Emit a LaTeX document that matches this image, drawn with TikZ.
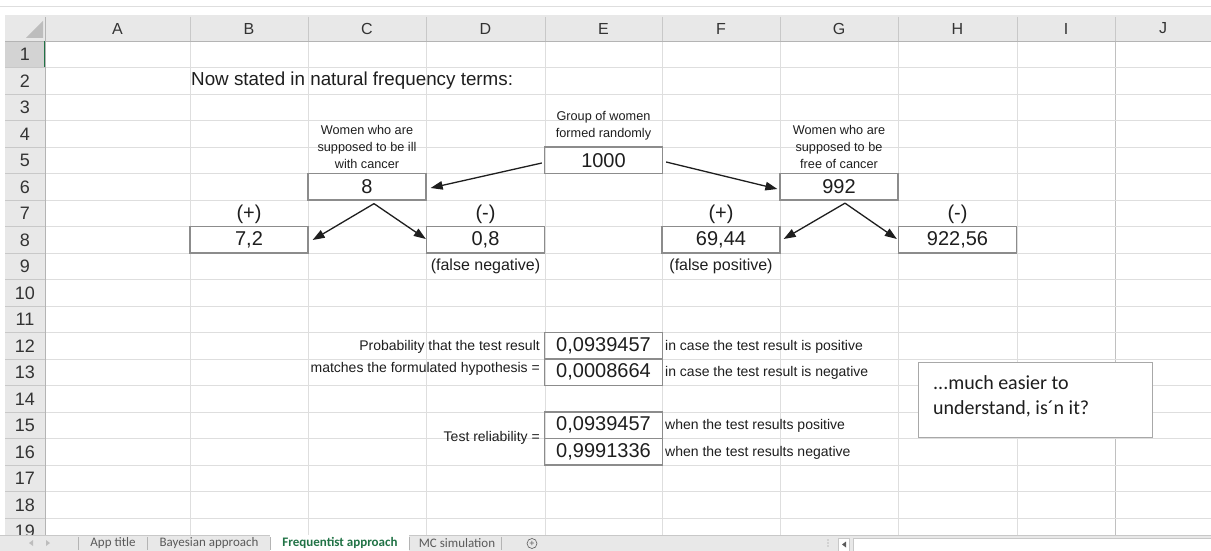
\documentclass[tikz,border=0pt]{standalone}
\usepackage{fontspec}
\setmainfont{Liberation Sans}
\newfontfamily\uifont{Carlito}
\usetikzlibrary{arrows.meta,calc}
\definecolor{gridc}{HTML}{DEDEDE}
\definecolor{gridd}{HTML}{C0C0C0}
\definecolor{hdrbg}{HTML}{E8E8E8}
\definecolor{hdrsel}{HTML}{D3D3D3}
\definecolor{hdrline}{HTML}{C8C8C8}
\definecolor{hdrdark}{HTML}{B4B4B4}
\definecolor{hdrtxt}{HTML}{333333}
\definecolor{cornerc}{HTML}{BDBDBD}
\definecolor{boxc}{HTML}{8C8C8C}
\definecolor{txt}{HTML}{1E1E1E}
\definecolor{xlgreen}{HTML}{217346}
\definecolor{tabbg}{HTML}{E8E8E8}
\definecolor{tabgray}{HTML}{5A5A5A}
\definecolor{tbc}{HTML}{A8A8A8}
\newcommand\fsz[1]{\fontsize{#1}{#1}\selectfont}
\begin{document}
\begin{tikzpicture}[x=1pt,y=-1pt,
  gridline/.style={draw=gridc, line width=0.8pt},
  hdrsep/.style={draw=hdrline, line width=0.8pt},
  numbox/.style={draw=boxc, line width=1.3pt, minimum width=118pt, minimum height=26.5pt, inner sep=0pt, text=txt, font=\fsz{20}},
  bigtxt/.style={inner sep=0pt, text=txt, font=\fsz{20}},
  midtxt/.style={inner sep=0pt, text=txt, font=\fsz{16}},
  smalltxt/.style={inner sep=0pt, text=txt, align=center, font=\fontsize{12.7}{17}\selectfont},
  notetxt/.style={inner sep=0pt, text=txt, font=\fsz{14}},
  arr/.style={draw=txt, line width=1.3pt, -{Triangle[length=12pt,width=8.5pt]}},
  collbl/.style={inner sep=0pt, text=hdrtxt, font=\fsz{16}},
  rowlbl/.style={inner sep=0pt, text=hdrtxt, font=\fsz{18}},
  tabtxt/.style={inner sep=0pt, text=tabgray, font=\uifont\fsz{13}},
]
\useasboundingbox (0,0) rectangle (1211,551);
\fill[white] (0,0) rectangle (1211,551);
\draw[draw=gridc, line width=0.6pt] (0,6) -- (1211,6);
% headers
\fill[hdrbg] (5,15) rectangle (1211,41);
\fill[hdrbg] (5,41) rectangle (45,535);
\fill[hdrsel] (5,41) rectangle (45,67.5);
\fill[cornerc] (43,21) -- (43,38) -- (26,38) -- cycle;
% grid
\foreach \x in {190,308,426,545,662,780,898,1017} \draw[gridline] (\x,41) -- (\x,535);
\draw[draw=gridd, line width=0.8pt] (1115,41) -- (1115,535);
\foreach \n in {1,...,18} \draw[gridline] (45,{41+26.5*\n}) -- (1211,{41+26.5*\n});
\foreach \x in {190,308,426,545,662,780,898,1017,1115} \draw[hdrsep] (\x,17) -- (\x,41);
\foreach \n in {1,...,18} \draw[hdrsep] (5,{41+26.5*\n}) -- (45,{41+26.5*\n});
\draw[draw=hdrdark, line width=0.9pt] (5,41) -- (1211,41);
\draw[draw=hdrdark, line width=0.9pt] (45,17) -- (45,535);
\draw[draw=xlgreen, line width=1.6pt] (44.5,41) -- (44.5,67.5);
% labels
\foreach \c/\x in {A/117.5,B/249,C/367,D/485.5,E/603.5,F/721,G/839,H/957.5,I/1066,J/1163}
  \node[collbl] (col\c) at (\x,28.5) {\c};
\foreach \n in {1,...,19}
  \node[rowlbl] (row\n) at (25,{41+26.5*(\n-1)+13.5}) {\n};
% contents
\node[anchor=west, inner sep=0pt, text=txt, font=\fsz{18.8}] (title) at (191,81) {Now stated in natural frequency terms:};
\node[smalltxt] (lble) at (603.5,125.5) {Group of women\\formed randomly};
\node[smalltxt] (lblc) at (367,147) {Women who are\\supposed to be ill\\with cancer};
\node[smalltxt] (lblg) at (839,147) {Women who are\\supposed to be\\free of cancer};
\node[numbox] (e5) at (603.5,160.25) {1000};
\node[numbox] (c6) at (367,186.75) {8};
\node[numbox] (g6) at (839,186.75) {992};
\node[bigtxt] (pb7) at (249,214) {(+)};
\node[bigtxt] (md7) at (485.5,214) {(-)};
\node[bigtxt] (pf7) at (721,214) {(+)};
\node[bigtxt] (mh7) at (957.5,214) {(-)};
\node[numbox] (b8) at (249,239.75) {7,2};
\node[numbox] (d8) at (485.5,239.75) {0,8};
\node[numbox] (f8) at (721,239.75) {69,44};
\node[numbox] (h8) at (957.5,239.75) {922,56};
\node[midtxt] (fn9) at (485.5,266.5) {(false negative)};
\node[midtxt] (fp9) at (721,266.5) {(false positive)};
% arrows
\draw[arr] ($(e5.west)+(-2,2.75)$) -- ($(c6.east)+(4,1.25)$);
\draw[arr] ($(e5.east)+(3,1.75)$) -- ($(g6.west)+(-2,2.25)$);
\draw[arr] ($(c6.south)+(7,3)$) -- ($(b8.east)+(4,0.25)$);
\draw[arr] ($(c6.south)+(7,3)$) -- ($(d8.west)+(0,-0.75)$);
\draw[arr] ($(g6.south)+(6,2.5)$) -- ($(f8.east)+(3,-0.75)$);
\draw[arr] ($(g6.south)+(6,2.5)$) -- ($(h8.west)+(-1,-0.75)$);
% probabilities
\node[notetxt, anchor=east] (p1) at (540,347) {Probability that the test result};
\node[notetxt, anchor=east] (p2) at (540,369) {matches the formulated hypothesis =};
\node[numbox] (e12) at (603.5,345.75) {0,0939457};
\node[numbox] (e13) at (603.5,372.25) {0,0008664};
\node[notetxt, anchor=west] (f12) at (665,347) {in case the test result is positive};
\node[notetxt, anchor=west] (f13) at (665,373) {in case the test result is negative};
\node[notetxt, anchor=east] (tr) at (540,437.5) {Test reliability =};
\node[numbox] (e15) at (603.5,425.25) {0,0939457};
\node[numbox] (e16) at (603.5,451.75) {0,9991336};
\node[notetxt, anchor=west] (f15) at (665,426) {when the test results positive};
\node[notetxt, anchor=west] (f16) at (665,452.5) {when the test results negative};
% text box
\node[draw=tbc, line width=1pt, fill=white, minimum width=234pt, minimum height=75pt, inner sep=0pt, anchor=north west] (tbox) at (918,362) {};
\node[anchor=west, inner sep=0pt, align=left, text=txt, font=\uifont\fontsize{20}{25}\selectfont] (tbtext) at (933,396) {...much easier to\\understand, is´n it?};
% tab bar
\fill[tabbg] (0,535) rectangle (1211,551);
\draw[draw=hdrline, line width=0.8pt] (0,535) -- (1211,535);
\fill[white] (270,535.4) rectangle (409,551);
\foreach \x in {78,147,270,409,501} \draw[draw=hdrdark, line width=0.7pt] (\x,537) -- (\x,550);
\fill[cornerc] (29,543) -- (33,540) -- (33,546) -- cycle;
\fill[cornerc] (50,543) -- (46,540) -- (46,546) -- cycle;
\node[tabtxt] (tab1) at (113,543) {App title};
\node[tabtxt] (tab2) at (209,543) {Bayesian approach};
\node[tabtxt, text=xlgreen, font=\uifont\bfseries\fsz{13}] (tab3) at (340,543) {Frequentist approach};
\node[tabtxt] (tab4) at (457,543) {MC simulation};
\node[circle, draw=tabgray, line width=0.6pt, inner sep=0pt, minimum size=10pt, text=tabgray, font=\fsz{9}] (plus) at (532,543.5) {+};
\foreach \yy in {540,543,546} \fill[cornerc] (828,\yy) circle (0.8);
\node[draw=hdrline, fill=white, minimum width=11pt, minimum height=13pt, inner sep=0pt] (sbtn) at (844,544.5) {};
\fill[tabgray] (842,544.5) -- (846,541.5) -- (846,547.5) -- cycle;
\node[draw=hdrline, fill=white, minimum width=358pt, minimum height=13pt, inner sep=0pt, anchor=north west] (scroll) at (853,538) {};
\end{tikzpicture}
\end{document}
